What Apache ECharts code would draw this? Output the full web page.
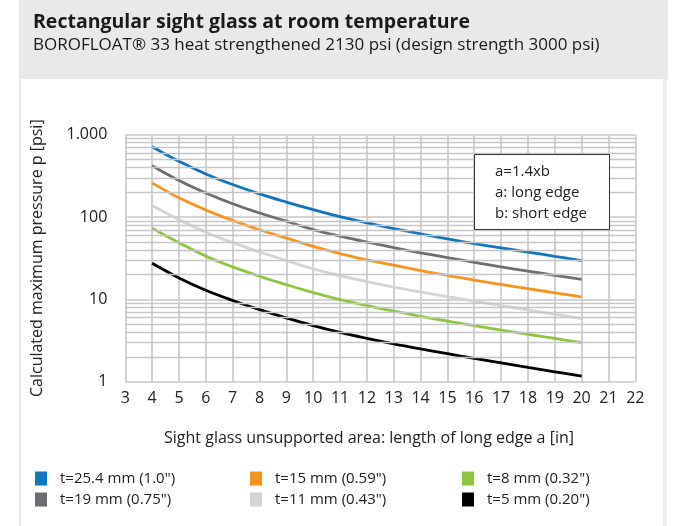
<!DOCTYPE html>
<html>
<head>
<meta charset="utf-8">
<script src="https://cdn.jsdelivr.net/npm/echarts@6/dist/echarts.min.js"></script>
<style>
html,body{margin:0;padding:0;background:#fff;}
#chart{width:681px;height:526px;}
</style>
</head>
<body>
<div id="chart"></div>
<script>
// ---- data ----
const lengthA = [4,5,6,7,8,9,10,11,12,13,14,15,16,17,18,19,20];
const seriesNames = ['t=25.4 mm (1.0")','t=19 mm (0.75")','t=15 mm (0.59")','t=11 mm (0.43")','t=8 mm (0.32")','t=5 mm (0.20")'];
const t254 = [715,475,334,248,191,152,123,101,85,72.5,62.5,54.3,47.6,42.2,37.5,33.3,29.6];
const t19  = [420,278,196,145,112,89,70.5,58.5,49.5,42.5,36.8,32.2,28.2,24.8,22,19.6,17.5];
const t15  = [260,171,122,91,70,55.5,44,36,30.2,26,22.3,19.5,17.1,15.2,13.5,12,10.7];
const t11  = [138,93,65.5,48.8,37.6,29.6,23.5,19.4,16.4,14.1,12.3,10.8,9.5,8.4,7.45,6.6,5.85];
const t8   = [73,48.8,33.5,24.8,19.1,15.1,12.1,9.95,8.4,7.2,6.22,5.45,4.8,4.24,3.77,3.35,2.98];
const t5   = [27.4,18.2,12.9,9.7,7.5,5.95,4.8,3.97,3.36,2.88,2.5,2.19,1.92,1.69,1.49,1.32,1.17];
const xTicks = {min:3, max:22, interval:1};
const yTickLabels = {1:'1', 10:'10', 100:'100', 1000:'1.000'};
const decades = [1,10,100];
const minorSteps = [2,3,4,5,6,7,8,9];
const noteLines = ['a=1.4xb','a: long edge','b: short edge'];

const colors = ['#0f75bc','#6d6e71','#f7941d','#d1d3d4','#8cc63f','#000000'];
const allData = [t254,t19,t15,t11,t8,t5];

const FONT = '"Open Sans", sans-serif';
const gridColor = '#c6c6c6';

const minorValues = [];
decades.forEach(d => minorSteps.forEach(s => minorValues.push(d*s)));

const lineSeries = allData.map((arr,i) => ({
  name: seriesNames[i],
  type: 'line',
  smooth: 0.4,
  symbol: 'none',
  z: 3,
  lineStyle: {color: colors[i], width: 2.8},
  itemStyle: {color: colors[i]},
  data: lengthA.map((x,j) => [x, arr[j]])
}));

const gridSeries = {
  type: 'line',
  name: 'minorgrid',
  data: [],
  z: 1,
  silent: true,
  markLine: {
    silent: true,
    symbol: ['none','none'],
    label: {show: false},
    animation: false,
    lineStyle: {color: gridColor, width: 1.3, type: 'solid'},
    data: minorValues.map(v => ({yAxis: v}))
  }
};

const legendCommon = {
  orient: 'vertical',
  icon: 'rect',
  itemWidth: 12,
  itemHeight: 14,
  itemGap: 6,
  padding: 0,
  selectedMode: false,
  textStyle: {fontFamily: FONT, fontSize: 15, color: '#222', padding: [0,0,0,8]}
};

const noteFont = '15px "Open Sans", sans-serif';

const chart = echarts.init(document.getElementById('chart'), null, {renderer: 'canvas'});
chart.setOption({
  animation: false,
  backgroundColor: '#ffffff',
  title: {
    text: 'Rectangular sight glass at room temperature',
    subtext: 'BOROFLOAT® 33 heat strengthened 2130 psi (design strength 3000 psi)',
    left: 33, top: 12, itemGap: 5, padding: 0,
    textStyle: {fontFamily: FONT, fontSize: 19.5, fontWeight: 'bold', color: '#1a1a1a'},
    subtextStyle: {fontFamily: FONT, fontSize: 17, color: '#1a1a1a'}
  },
  graphic: [
    {type:'rect', z:-10, shape:{x:19,y:0,width:649,height:79}, style:{fill:'#e9e9e9'}},
    {type:'rect', z:-10, shape:{x:19,y:79,width:2,height:447}, style:{fill:'#e6e6e6'}},
    {type:'rect', z:-10, shape:{x:663,y:79,width:4,height:447}, style:{fill:'#ededed'}},
    {type:'text', z: 10, style:{
      text:'Sight glass unsupported area: length of long edge a [in]',
      x: 369, y: 438, textAlign:'center', textVerticalAlign:'middle',
      font: '16px "Open Sans", sans-serif', fill:'#222'}},
    {type:'rect', z: 100, shape:{x:474.5,y:154.5,width:135,height:75}, style:{fill:'#fff', stroke:'#333', lineWidth:1}},
    {type:'text', z: 101, style:{text: noteLines[0], x:495, y:172, textVerticalAlign:'middle', font: noteFont, fill:'#222'}},
    {type:'text', z: 101, style:{text: noteLines[1], x:495, y:193, textVerticalAlign:'middle', font: noteFont, fill:'#222'}},
    {type:'text', z: 101, style:{text: noteLines[2], x:495, y:214, textVerticalAlign:'middle', font: noteFont, fill:'#222'}}
  ],
  legend: [
    Object.assign({left: 35, top: 471, data: [seriesNames[0], seriesNames[1]]}, legendCommon),
    Object.assign({left: 250, top: 471, data: [seriesNames[2], seriesNames[3]]}, legendCommon),
    Object.assign({left: 462, top: 471, data: [seriesNames[4], seriesNames[5]]}, legendCommon)
  ],
  grid: {left: 125.3, top: 134.7, width: 510, height: 247, containLabel: false},
  xAxis: {
    type: 'value', min: xTicks.min, max: xTicks.max, interval: xTicks.interval,
    axisLine: {show: false}, axisTick: {show: false},
    axisLabel: {fontFamily: FONT, fontSize: 16, color: '#222', margin: 9},
    splitLine: {show: true, lineStyle: {color: '#cccccc', width: 1.8}}
  },
  yAxis: {
    type: 'log', logBase: 10, min: 1, max: 1000,
    name: 'Calculated maximum pressure p [psi]',
    nameLocation: 'middle', nameGap: 80,
    nameTextStyle: {fontFamily: FONT, fontSize: 16, color: '#222'},
    axisLine: {show: false}, axisTick: {show: false},
    axisLabel: {fontFamily: FONT, fontSize: 16, color: '#222', margin: 18,
      formatter: v => yTickLabels[Math.round(v)] || ''},
    splitLine: {show: true, lineStyle: {color: gridColor, width: 1.5}}
  },
  series: [gridSeries].concat(lineSeries)
});
</script>
</body>
</html>
